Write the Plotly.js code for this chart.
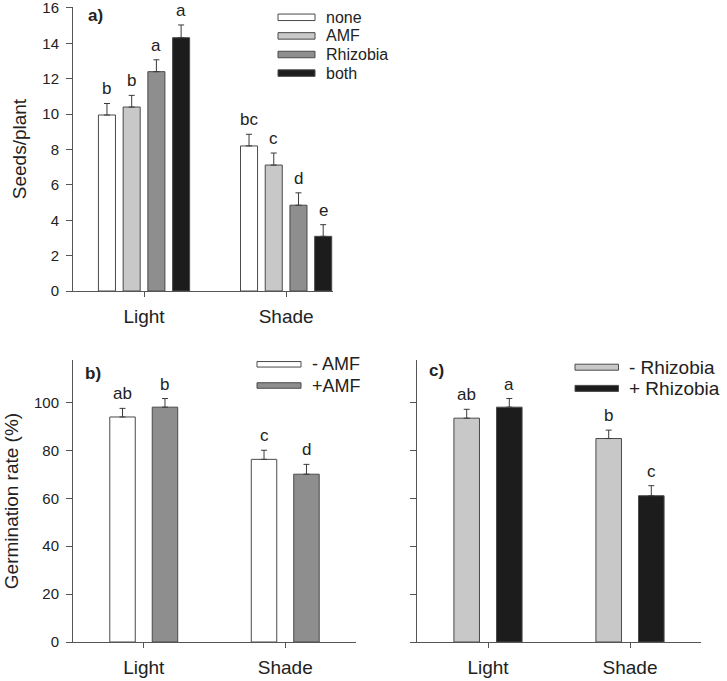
<!DOCTYPE html>
<html>
<head>
<meta charset="utf-8">
<script src="https://cdn.plot.ly/plotly-3.0.1.min.js"></script>
<style>
  html, body { margin: 0; padding: 0; background: #fff; }
  #chart { width: 727px; height: 681px; }
</style>
</head>
<body>
<div id="chart"></div>
<script>
// ---------- data ----------
const groups = ['Light', 'Shade'];

// Panel a: seeds per plant
const seedSeries = ['none', 'AMF', 'Rhizobia', 'both'];
const seedNone = [9.95, 8.2];
const seedAMF = [10.4, 7.12];
const seedRhizobia = [12.4, 4.85];
const seedBoth = [14.32, 3.09];
const seedNoneErr = [0.65, 0.66];
const seedAMFErr = [0.66, 0.68];
const seedRhizobiaErr = [0.67, 0.7];
const seedBothErr = [0.72, 0.66];
const seedNoneLetters = ['b', 'bc'];
const seedAMFLetters = ['b', 'c'];
const seedRhizobiaLetters = ['a', 'd'];
const seedBothLetters = ['a', 'e'];

// Panel b: germination, AMF
const amfSeries = ['- AMF', '+AMF'];
const germNoAMF = [94.0, 76.3];
const germAMF = [98.1, 70.1];
const germNoAMFErr = [3.6, 3.8];
const germAMFErr = [3.6, 4.1];
const germNoAMFLetters = ['ab', 'c'];
const germAMFLetters = ['b', 'd'];

// Panel c: germination, Rhizobia
const rhizSeries = ['- Rhizobia', '+ Rhizobia'];
const germNoRhiz = [93.5, 85.0];
const germRhiz = [98.1, 61.1];
const germNoRhizErr = [3.7, 3.5];
const germRhizErr = [3.6, 4.2];
const germNoRhizLetters = ['ab', 'b'];
const germRhizLetters = ['a', 'c'];

// ---------- styles ----------
const W = 727, H = 681;
const FONT = '"Liberation Sans", Arial, Helvetica, sans-serif';
const TXT = '#222';
const AX = '#555';
const COL = { white: '#ffffff', light: '#c8c8c8', mid: '#8e8e8e', dark: '#1c1c1c' };

function px(x) { return x / W; }
function py(y) { return 1 - y / H; }

const traces = [];
const annotations = [];
const shapes = [];

function addPanel(xa, ya, series, values, errs, letters, colors, barW, centers, legend) {
  series.forEach((name, j) => {
    traces.push({
      type: 'bar',
      name: name,
      x: groups,
      y: values[j],
      xaxis: xa, yaxis: ya,
      width: groups.map(() => barW),
      offset: groups.map(() => centers[j] - barW / 2),
      marker: { color: colors[j], line: { color: '#4a4a4a', width: 1 } },
      error_y: {
        type: 'data', symmetric: false,
        array: errs[j], arrayminus: errs[j].map(() => 0),
        color: '#3a3a3a', thickness: 1, width: 3
      },
      showlegend: false,
      hoverinfo: 'x+y+name'
    });
    groups.forEach((g, i) => {
      annotations.push({
        xref: xa, yref: ya,
        x: i + centers[j], y: values[j][i] + errs[j][i],
        text: letters[j][i], showarrow: false,
        xanchor: 'center', yanchor: 'bottom', yshift: 3,
        font: { family: FONT, size: 17, color: TXT }
      });
    });
    // custom legend entry (wide rectangle like the original)
    const L = legend;
    const cy = L.y0 + j * L.dy;
    shapes.push({
      type: 'rect', xref: 'paper', yref: 'paper',
      x0: px(L.x0), x1: px(L.x0 + L.w),
      y0: py(cy + L.h / 2), y1: py(cy - L.h / 2),
      fillcolor: colors[j], line: { color: '#4a4a4a', width: 1 }
    });
    annotations.push({
      xref: 'paper', yref: 'paper',
      x: px(L.tx), y: py(cy),
      text: name, showarrow: false,
      xanchor: 'left', yanchor: 'middle',
      font: { family: FONT, size: L.fs, color: TXT }
    });
  });
}

addPanel('x', 'y', seedSeries,
  [seedNone, seedAMF, seedRhizobia, seedBoth],
  [seedNoneErr, seedAMFErr, seedRhizobiaErr, seedBothErr],
  [seedNoneLetters, seedAMFLetters, seedRhizobiaLetters, seedBothLetters],
  [COL.white, COL.light, COL.mid, COL.dark],
  0.12, [-0.261, -0.087, 0.087, 0.261],
  { x0: 278, w: 37, h: 6.5, y0: 17.3, dy: 18.6, tx: 324, fs: 16 });

addPanel('x2', 'y2', amfSeries,
  [germNoAMF, germAMF], [germNoAMFErr, germAMFErr],
  [germNoAMFLetters, germAMFLetters],
  [COL.white, COL.mid],
  0.18, [-0.15, 0.15],
  { x0: 257, w: 44, h: 5.5, y0: 364.3, dy: 21.2, tx: 310, fs: 18 });

addPanel('x3', 'y3', rhizSeries,
  [germNoRhiz, germRhiz], [germNoRhizErr, germRhizErr],
  [germNoRhizLetters, germRhizLetters],
  [COL.light, COL.dark],
  0.18, [-0.15, 0.15],
  { x0: 575, w: 43.5, h: 6, y0: 367.2, dy: 21.2, tx: 627, fs: 19 });

// panel labels
[['a)', 86, 16], ['b)', 83, 373], ['c)', 427, 370]].forEach(([t, x, y]) => {
  annotations.push({
    xref: 'paper', yref: 'paper', x: px(x), y: py(y),
    text: '<b>' + t + '</b>', showarrow: false,
    xanchor: 'left', yanchor: 'middle',
    font: { family: FONT, size: 17, color: TXT }
  });
});

function xAxis(domain, range, anchor) {
  return {
    domain: domain, range: range, anchor: anchor, type: 'category',
    showline: true, linecolor: AX, linewidth: 1,
    ticks: 'outside', ticklen: 5, tickcolor: AX, tickwidth: 1,
    ticklabelstandoff: 3,
    showgrid: false, zeroline: false, fixedrange: true,
    tickfont: { family: FONT, size: 19, color: TXT }
  };
}
function yAxis(domain, range, dtick, anchor, title, showLabels) {
  return {
    domain: domain, range: range, anchor: anchor,
    showline: true, linecolor: AX, linewidth: 1,
    ticks: 'outside', ticklen: 6, tickcolor: AX, tickwidth: 1,
    ticklabelstandoff: 4, ticklabeloverflow: 'allow',
    tick0: 0, dtick: dtick, showticklabels: showLabels,
    showgrid: false, zeroline: false, fixedrange: true,
    tickfont: { family: FONT, size: 15, color: TXT },
    title: title ? { text: title, font: { family: FONT, size: 19, color: TXT }, standoff: 10 } : { text: '' }
  };
}

const layout = {
  width: W, height: H,
  margin: { l: 0, r: 0, t: 0, b: 0 },
  paper_bgcolor: '#fff', plot_bgcolor: '#fff',
  barmode: 'overlay',
  showlegend: false,
  font: { family: FONT, color: TXT },
  xaxis: xAxis([px(73), px(333)], [-0.5, 1.33], 'y'),
  yaxis: yAxis([py(291), py(7.1)], [0, 16.05], 2, 'x', 'Seeds/plant', true),
  xaxis2: xAxis([px(73), px(356)], [-0.5, 1.5], 'y2'),
  yaxis2: yAxis([py(642), py(360)], [0, 117.8], 20, 'x2', 'Germination rate (%)', true),
  xaxis3: xAxis([px(417), px(701)], [-0.5, 1.5], 'y3'),
  yaxis3: yAxis([py(642), py(360)], [0, 117.8], 20, 'x3', null, false),
  annotations: annotations,
  shapes: shapes
};

Plotly.newPlot('chart', traces, layout, { displayModeBar: false, staticPlot: true });
</script>
</body>
</html>
